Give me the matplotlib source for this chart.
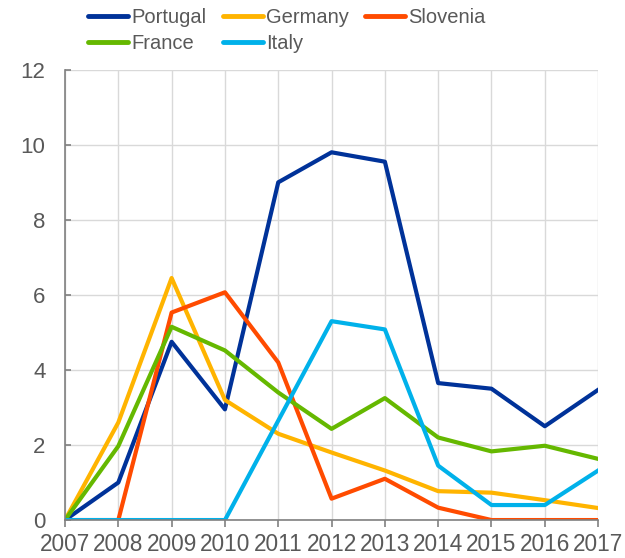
import matplotlib
matplotlib.use("Agg")
import matplotlib.pyplot as plt

years = [2007, 2008, 2009, 2010, 2011, 2012, 2013, 2014, 2015, 2016, 2017]
portugal = [0, 1.0, 4.75, 2.95, 9.0, 9.8, 9.55, 3.65, 3.5, 2.5, 3.47]
germany = [0, 2.6, 6.45, 3.2, 2.3, 1.8, 1.32, 0.77, 0.73, 0.53, 0.32]
slovenia = [0, 0, 5.53, 6.07, 4.2, 0.57, 1.1, 0.33, 0, 0, 0]
france = [0, 1.97, 5.15, 4.52, 3.4, 2.43, 3.25, 2.2, 1.83, 1.98, 1.63]
italy = [0, 0, 0, 0, 2.65, 5.3, 5.08, 1.45, 0.4, 0.4, 1.32]

plt.rcParams['font.family'] = ['Liberation Sans', 'DejaVu Sans']

fig = plt.figure(figsize=(6.25, 5.58), dpi=100)
ax = fig.add_axes([0.104, 0.068, 0.853, 0.807])

series = {
    "Portugal": (portugal, "#003299"),
    "Germany": (germany, "#FFB400"),
    "Slovenia": (slovenia, "#FF4B00"),
    "France": (france, "#65B800"),
    "Italy": (italy, "#00B1EA"),
}
lines = {}
for name, (vals, col) in series.items():
    lines[name], = ax.plot(years, vals, color=col, lw=3, label=name)

ax.set_xlim(2007, 2017)
ax.set_ylim(0, 12)
ax.set_xticks(years)
ax.set_yticks(range(0, 13, 2))
ax.grid(True, color="#d9d9d9", lw=1)
ax.set_axisbelow(True)
for s in ["top", "right"]:
    ax.spines[s].set_visible(False)
for s in ["left", "bottom"]:
    ax.spines[s].set_color("#808080")
    ax.spines[s].set_linewidth(1.2)
ax.tick_params(axis="x", colors="#808080", labelcolor="#595959", labelsize=16.3,
               length=5, width=1.2, direction="out", pad=4)
ax.tick_params(axis="y", colors="#808080", labelcolor="#595959", labelsize=16,
               length=4, width=1.2, direction="in", pad=14)

# column-major order so the rows read Portugal, Germany, Slovenia / France, Italy
order = ["Portugal", "France", "Germany", "Italy", "Slovenia"]
leg = fig.legend([lines[n] for n in order], order, loc="upper left",
                 bbox_to_anchor=(0.141, 0.985), ncol=3, frameon=False,
                 fontsize=14.5, handlelength=2.0, handletextpad=0.15,
                 columnspacing=0.8, labelspacing=0.35, borderaxespad=0, borderpad=0)
for t in leg.get_texts():
    t.set_color("#595959")
for h in leg.get_lines():
    h.set_linewidth(3.5)
    h.set_solid_capstyle("round")

plt.savefig("out.png", dpi=100)
